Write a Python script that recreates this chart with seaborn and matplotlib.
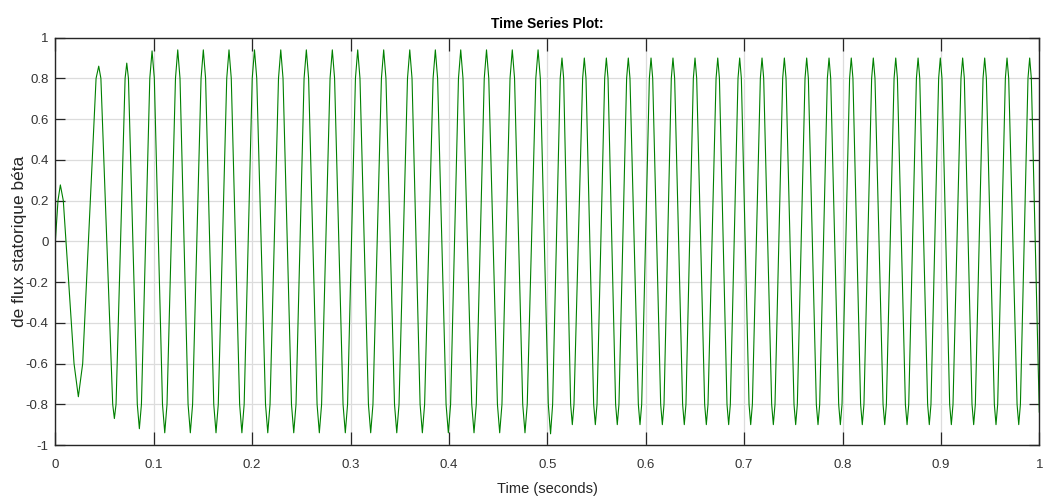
import numpy as np
import pandas as pd
import matplotlib
matplotlib.use("Agg")
import matplotlib.pyplot as plt
import seaborn as sns
from matplotlib.ticker import FuncFormatter, MultipleLocator

# Extrema (peaks / troughs) of the stator flux beta component
flux_time = [
    0.0000, 0.0051, 0.0234, 0.0441, 0.0600, 0.0726, 0.0854, 0.0983, 0.1112, 0.1244,
    0.1372, 0.1504, 0.1633, 0.1765, 0.1896, 0.2024, 0.2159, 0.2291, 0.2423, 0.2551,
    0.2683, 0.2815, 0.2947, 0.3073, 0.3205, 0.3337, 0.3470, 0.3602, 0.3730, 0.3862,
    0.3994, 0.4120, 0.4255, 0.4382, 0.4516, 0.4644, 0.4773, 0.4906, 0.5033, 0.5149,
    0.5254, 0.5376, 0.5488, 0.5600, 0.5711, 0.5823, 0.5942, 0.6054, 0.6169, 0.6277,
    0.6392, 0.6501, 0.6616, 0.6732, 0.6843, 0.6955, 0.7067, 0.7182, 0.7297, 0.7409,
    0.7524, 0.7636, 0.7751, 0.7863, 0.7978, 0.8089, 0.8201, 0.8313, 0.8429, 0.8541,
    0.8656, 0.8768, 0.8882, 0.8994, 0.9106, 0.9221, 0.9333, 0.9445, 0.9560, 0.9672,
    0.9791, 0.9902, 1.0000,
]
flux_value = [
    0.00, 0.277, -0.763, 0.86, -0.87, 0.875, -0.92, 0.935, -0.94, 0.94,
    -0.94, 0.94, -0.94, 0.94, -0.94, 0.94, -0.94, 0.94, -0.94, 0.94,
    -0.94, 0.94, -0.94, 0.94, -0.94, 0.94, -0.94, 0.94, -0.94, 0.94,
    -0.94, 0.94, -0.94, 0.94, -0.94, 0.94, -0.94, 0.94, -0.945, 0.90,
    -0.90, 0.90, -0.90, 0.90, -0.90, 0.90, -0.90, 0.90, -0.90, 0.90,
    -0.90, 0.90, -0.90, 0.90, -0.90, 0.90, -0.90, 0.90, -0.90, 0.90,
    -0.90, 0.90, -0.90, 0.90, -0.90, 0.90, -0.90, 0.90, -0.90, 0.90,
    -0.90, 0.90, -0.90, 0.90, -0.90, 0.90, -0.90, 0.90, -0.90, 0.90,
    -0.90, 0.90, -0.84,
]
# Where each lobe crosses the nearest grid line below its tip (|level|, 0 = none),
# read as half-widths (s) left and right of the extremum
cross_level = [0.0, 0.2, 0.6] + [0.8] * 79 + [0.0]
cross_left = ([0.0, 0.0024, 0.0044, 0.0027, 0.0017, 0.0017, 0.0021, 0.0023]
              + [0.0023] * 31 + [0.0018] + [0.0017] * 42 + [0.0])
cross_right = ([0.0, 0.0030, 0.0044, 0.0022, 0.0017, 0.0017, 0.0021, 0.0023]
               + [0.0023] * 30 + [0.0021] + [0.0017] * 43 + [0.0])

title_text = "Time Series Plot:"
x_label = "Time (seconds)"
y_label = "de flux statorique béta"

sns.set_theme(style="white")
plt.rcParams["font.family"] = ["Liberation Sans", "DejaVu Sans"]

# assemble the read points (extrema + grid-line crossings) in time order
pts_t, pts_v = [], []
for t, v, lv, hl, hr in zip(flux_time, flux_value, cross_level, cross_left, cross_right):
    sgn = 1.0 if v >= 0 else -1.0
    if lv > 0:
        pts_t += [t - hl, t, t + hr]
        pts_v += [sgn * lv, v, sgn * lv]
    else:
        pts_t.append(t)
        pts_v.append(v)
df = pd.DataFrame({"t": pts_t, "v": pts_v})

fig = plt.figure(figsize=(10.44, 4.98), dpi=100)
ax = fig.add_axes([0.053, 0.1064, 0.9425, 0.818])

sns.lineplot(data=df, x="t", y="v", color="#008000", linewidth=0.8,
             estimator=None, sort=False, ax=ax)

ax.set_xlim(0, 1)
ax.set_ylim(-1, 1)
ax.xaxis.set_major_locator(MultipleLocator(0.1))
ax.yaxis.set_major_locator(MultipleLocator(0.2))
fmt = FuncFormatter(lambda v, p: "0" if abs(v) < 1e-9 else f"{v:g}")
ax.xaxis.set_major_formatter(fmt)
ax.yaxis.set_major_formatter(fmt)

ax.grid(True, color="#dcdcdc", linewidth=0.9)
ax.set_axisbelow(True)
for s in ax.spines.values():
    s.set_color("#262626")
    s.set_linewidth(1.0)

ax.tick_params(axis="x", direction="in", length=9.4, width=0.9, color="#262626",
               top=True, bottom=True, labelsize=9.5, labelcolor="#333333", pad=10)
ax.tick_params(axis="y", direction="in", length=7.5, width=0.9, color="#262626",
               left=True, right=True, labelsize=9.5, labelcolor="#333333", pad=5)

ax.set_xlabel(x_label, fontsize=10.5, color="#262626", labelpad=8)
ax.set_ylabel(y_label, fontsize=12.5, color="#262626", labelpad=-1)
ax.set_title(title_text, fontsize=10, fontweight="bold", color="black", pad=7)

fig.savefig("out.png", dpi=100)
